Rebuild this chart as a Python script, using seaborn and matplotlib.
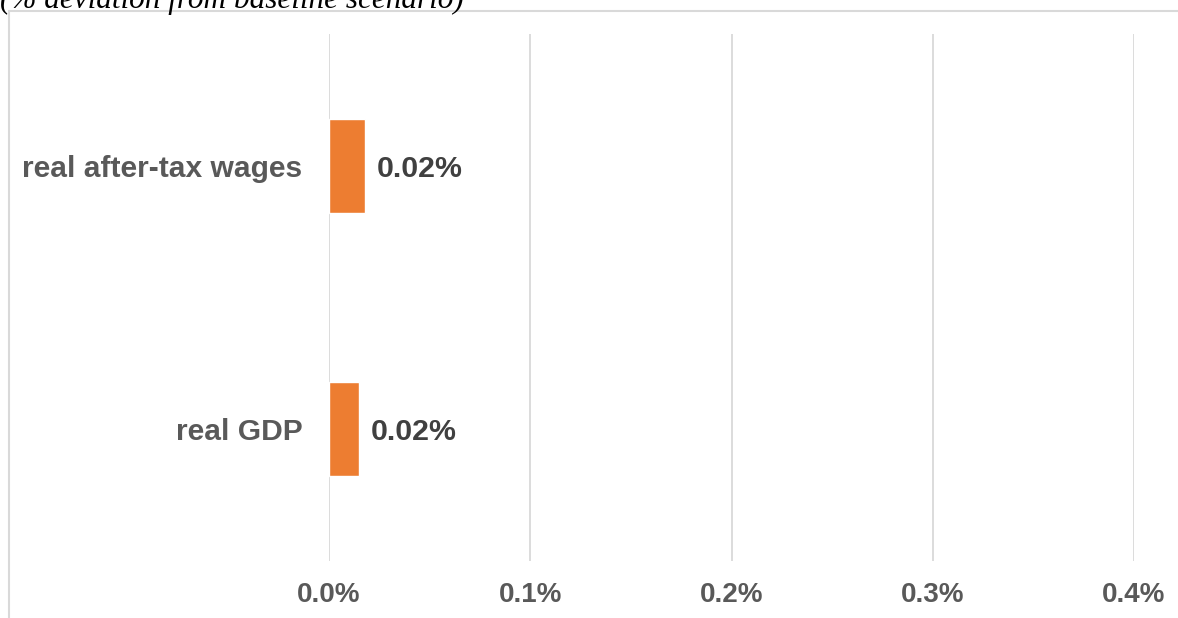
import matplotlib
matplotlib.use("Agg")
import matplotlib.pyplot as plt
import seaborn as sns
import pandas as pd
from matplotlib.lines import Line2D

categories = ["real after-tax wages", "real GDP"]
values = [0.018, 0.015]
value_labels = ["0.02%", "0.02%"]
xticks = [0.0, 0.1, 0.2, 0.3, 0.4]
xtick_labels = ["0.0%", "0.1%", "0.2%", "0.3%", "0.4%"]
title = "(% deviation from baseline scenario)"

sns.set_theme(style="white")
plt.rcParams['font.family'] = ['Liberation Sans', 'DejaVu Sans']

W, H = 1178, 618
fig = plt.figure(figsize=(W / 100, H / 100), dpi=100)
ax = fig.add_axes([329 / W, 1 - 561 / H, (1134 - 329) / W, (561 - 34) / H])

df = pd.DataFrame({"category": categories, "value": values})
sns.barplot(data=df, x="value", y="category", orient="h", color="#ED7D31",
            saturation=1, width=0.355, ax=ax)

ax.set_xlim(0, 0.4)
ax.set_ylim(1.5, -0.5)
ax.set_xticks(xticks)
ax.set_xticklabels(xtick_labels)
ax.set_xlabel("")
ax.set_ylabel("")
ax.grid(axis="x", color="#d9d9d9", linewidth=1.3)
ax.set_axisbelow(True)
for s in ax.spines.values():
    s.set_visible(False)
ax.tick_params(axis="x", length=0, pad=15, labelsize=20, labelcolor="#595959")
ax.tick_params(axis="y", length=0, pad=19, labelsize=21.6, labelcolor="#595959")
for t in ax.get_xticklabels() + ax.get_yticklabels():
    t.set_fontweight("bold")

for i, (v, lab) in enumerate(zip(values, value_labels)):
    ax.annotate(lab, xy=(v, i), xytext=(8, -2), textcoords="offset points",
                va="center", ha="left", fontsize=21.8, fontweight="bold",
                color="#404040")

# outer frame (left and top)
fig.add_artist(Line2D([9 / W, 9 / W], [0, 1 - 11 / H], transform=fig.transFigure,
                      color="#d9d9d9", linewidth=1.5))
fig.add_artist(Line2D([9 / W, 1], [1 - 11 / H, 1 - 11 / H], transform=fig.transFigure,
                      color="#d9d9d9", linewidth=1.5))

fig.text(0 / W, 1 - 8 / H, title, ha="left", va="baseline",
         fontsize=22.5, fontstyle="italic", family=["Liberation Serif", "DejaVu Serif"],
         color="#000000")

fig.savefig("out.png", dpi=100)
